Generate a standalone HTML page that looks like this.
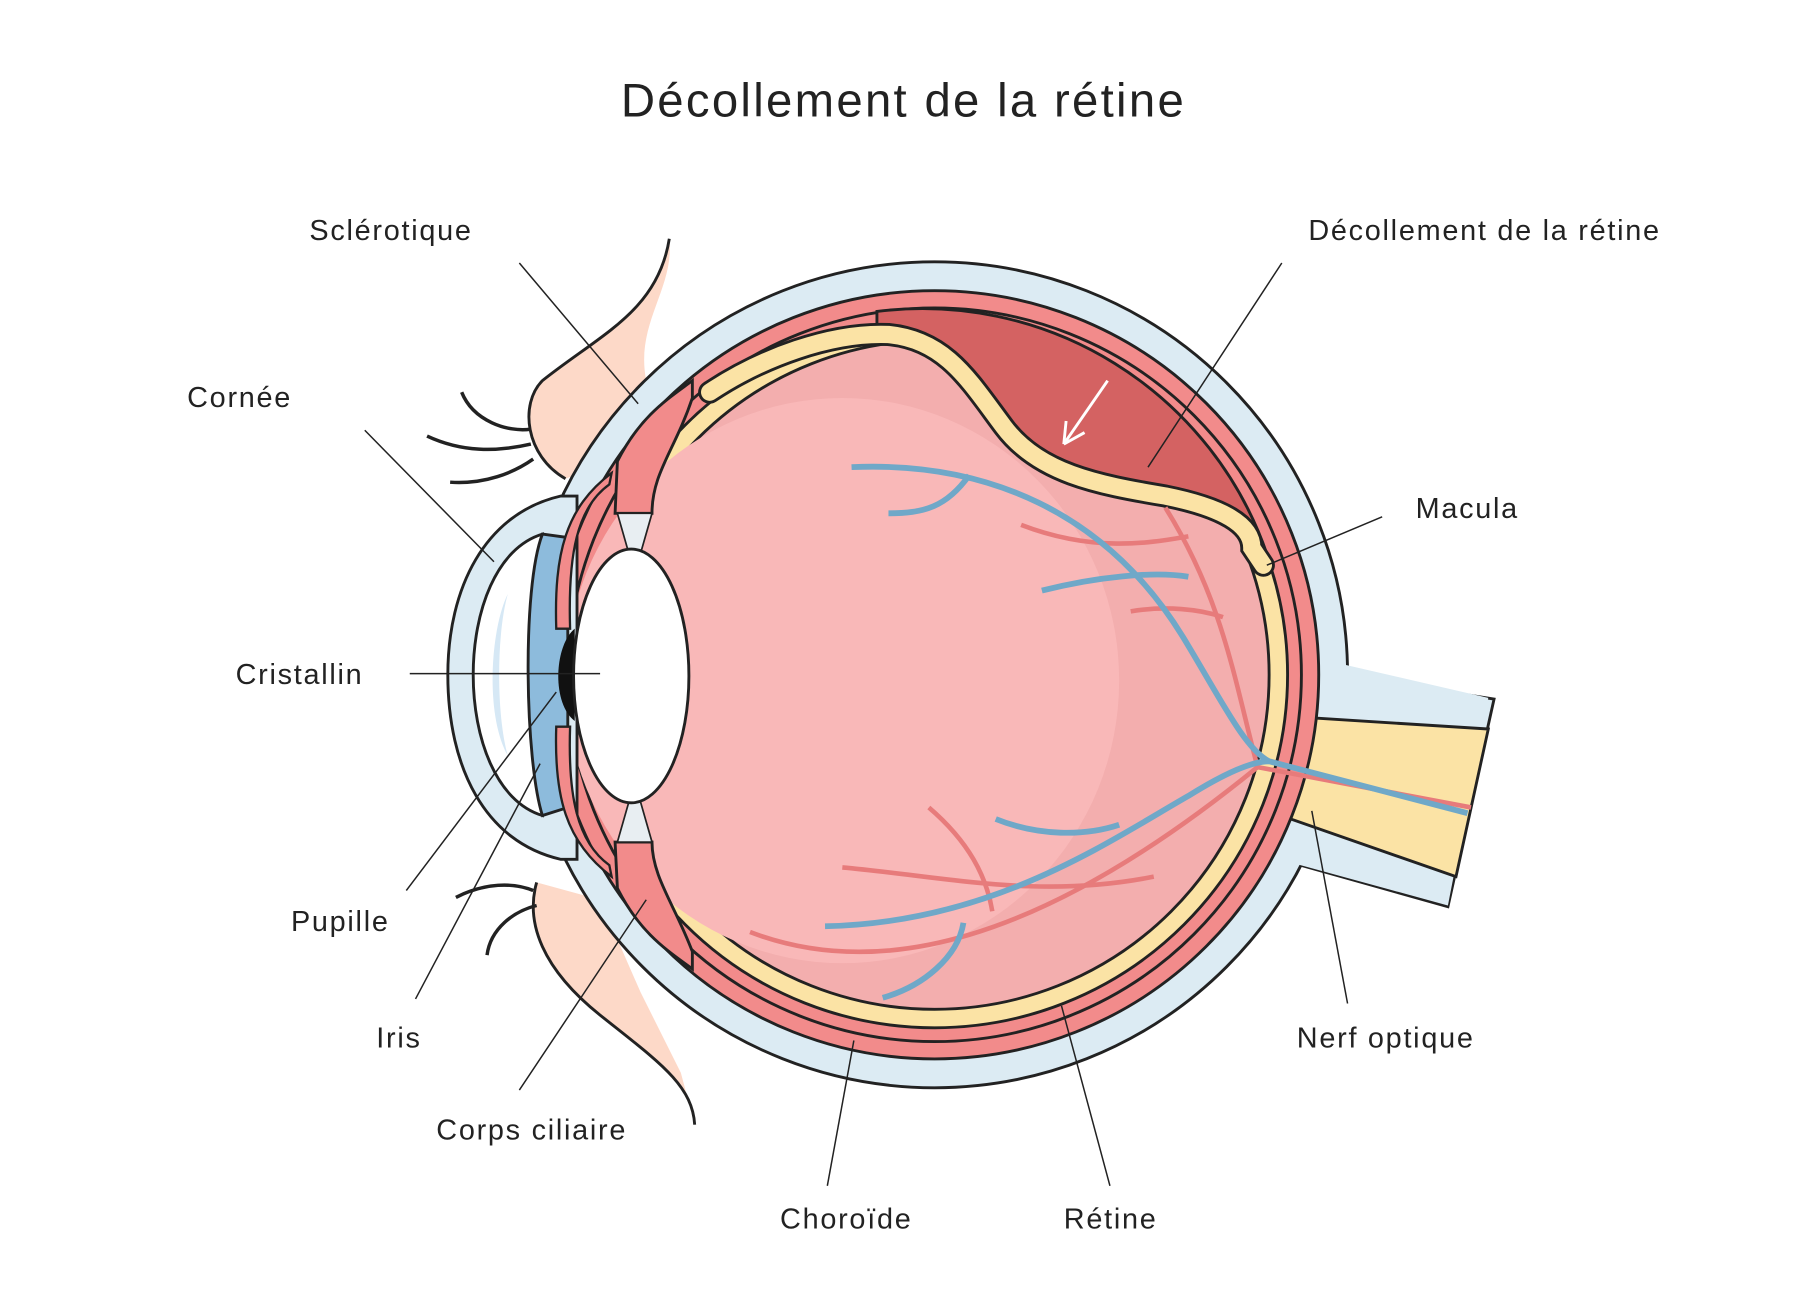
<!DOCTYPE html>
<html><head><meta charset="utf-8"><style>
html,body{margin:0;padding:0;background:#fff;width:1800px;height:1300px;overflow:hidden}
svg{display:block}
text{font-family:"Liberation Sans",sans-serif;fill:#222}
</style></head><body>
<svg width="1800" height="1300" viewBox="0 0 1560 1127" xmlns="http://www.w3.org/2000/svg">
<rect width="1560" height="1127" fill="#fff"/>
<text x="783" y="101" font-size="41" text-anchor="middle" letter-spacing="2">Décollement de la rétine</text>

<!-- eyelids -->
<path d="M580,207 C570,270 520,290 470,330 C450,350 455,395 490,415 L530,400 L560,330 C550,280 585,250 580,207 Z" fill="#fdd9c8"/>
<path d="M580,207 C570,270 520,290 470,330 C450,350 455,395 490,415" fill="none" stroke="#222" stroke-width="2.5"/>
<path d="M465,765 C455,800 470,840 520,880 C570,920 600,940 602,975 L590,930 L555,860 L520,780 Z" fill="#fdd9c8"/>
<path d="M465,765 C455,800 470,840 520,880 C570,920 600,940 602,975" fill="none" stroke="#222" stroke-width="2.5"/>
<g fill="none" stroke="#222" stroke-width="3">
<path d="M400,340 C410,365 440,375 460,372"/>
<path d="M370,378 C400,392 430,392 460,385"/>
<path d="M390,418 C420,420 445,410 462,398"/>
<path d="M395,778 C420,765 445,765 462,772"/>
<path d="M422,828 C425,805 445,790 465,785"/>
</g>

<path d="M1150,570 C1160,580 1165,586 1180,588 L1295,606 L1255,786 L1120,748 Z" fill="#dcebf3" stroke="#222" stroke-width="2.5"/>
<circle cx="810" cy="585" r="358" fill="#dcebf3" stroke="#222" stroke-width="2.5"/>
<path d="M1160,575 L1290,605 L1255,785 L1120,748 Z" fill="#dcebf3"/>
<path d="M1100,620 L1290,632 L1262,760 L1090,700 Z" fill="#fbe3a5" stroke="#222" stroke-width="2.5"/>
<circle cx="810" cy="585" r="333" fill="#f28b8b" stroke="#222" stroke-width="2.5"/>
<circle cx="810" cy="585" r="318" fill="#f28b8b" stroke="#222" stroke-width="2.5"/>
<circle cx="810" cy="585" r="306" fill="#fbe3a5" stroke="#222" stroke-width="2.5"/>
<circle cx="810" cy="585" r="290" fill="#f3aeae" stroke="#222" stroke-width="2.5"/>
<ellipse cx="730" cy="590" rx="240" ry="245" fill="#f9b8b8"/>

<path d="M760,270 A316,316 0 0 1 1098,480 C1080,455 1050,445 990,432 C920,420 890,405 860,360 C830,315 810,290 760,290 Z" fill="#d46262" stroke="#222" stroke-width="2.5"/>
<path d="M615,340 C660,310 720,288 770,290 C820,295 840,330 870,370 C900,410 950,420 1010,430 C1060,440 1085,455 1085,475 L1095,490" fill="none" stroke="#222" stroke-width="20" stroke-linecap="round"/>
<path d="M615,340 C660,310 720,288 770,290 C820,295 840,330 870,370 C900,410 950,420 1010,430 C1060,440 1085,455 1085,475 L1095,490" fill="none" stroke="#fbe3a5" stroke-width="15" stroke-linecap="round"/>
<path d="M960,330 L922,385 M922,385 L924,365 M922,385 L940,375" stroke="#fff" stroke-width="2.5" fill="none"/>

<g fill="none" stroke="#e77b7b" stroke-width="4">
<path d="M885,455 C950,480 1000,470 1030,465"/>
<path d="M980,530 C1010,525 1040,528 1060,535"/>
<path d="M1010,440 C1060,520 1070,590 1090,665"/>
<path d="M650,808 C760,850 900,820 1090,665"/>
<path d="M730,752 C820,760 900,780 1000,760"/>
<path d="M805,700 C840,730 855,760 860,790"/>
<path d="M1090,665 L1275,700"/>
</g>
<g fill="none" stroke="#6fa8c8" stroke-width="5">
<path d="M738,405 C850,400 960,440 1030,560 C1060,610 1080,650 1100,660 L1272,705"/>
<path d="M840,412 C820,440 800,445 770,445"/>
<path d="M903,512 C950,500 1000,495 1030,500"/>
<path d="M715,803 C860,800 960,730 1030,690 C1070,665 1090,660 1100,660"/>
<path d="M863,710 C900,725 940,725 970,715"/>
<path d="M835,800 C830,830 800,855 765,865"/>
</g>

<!-- ciliary bodies -->
<path d="M600,330 C580,345 555,360 535,400 L533,445 L565,445 C565,410 585,390 600,345 Z" fill="#f28b8b" stroke="#222" stroke-width="2.5"/>
<path d="M600,840 C580,825 555,810 535,770 L533,730 L565,730 C565,760 585,785 600,825 Z" fill="#f28b8b" stroke="#222" stroke-width="2.5"/>
<g stroke="#222" stroke-width="1.5" fill="#e8eef2">
<path d="M535,445 L545,480 L555,480 L565,445 Z"/>
<path d="M535,730 L545,695 L555,695 L565,730 Z"/>
</g>

<!-- cornea -->
<path d="M486,430 C420,445 388,510 388,585 C388,665 420,730 486,745 L500,745 L500,430 Z" fill="#dcebf3" stroke="#222" stroke-width="2.5"/>
<path d="M470,463 C430,475 410,530 410,585 C410,640 430,695 470,707 Z" fill="#fff" stroke="#222" stroke-width="2.5"/>
<path d="M440,515 C425,545 420,620 440,655 C430,620 430,550 440,515 Z" fill="#d6e8f5"/>
<path d="M470,463 L492,466 L492,700 L470,707 C455,660 452,510 470,463 Z" fill="#8dbbdc" stroke="#222" stroke-width="2.5"/>
<path d="M482,545 C480,480 490,440 530,410 L528,420 C500,440 492,480 494,545 Z" fill="#f28b8b" stroke="#222" stroke-width="2"/>
<path d="M482,630 C480,690 490,730 530,760 L528,750 C500,730 492,690 494,630 Z" fill="#f28b8b" stroke="#222" stroke-width="2"/>
<path d="M498,545 C480,560 478,610 498,625 Z" fill="#111"/>
<ellipse cx="547" cy="586" rx="50" ry="110" fill="#fff" stroke="#222" stroke-width="2.5"/>

<g stroke="#222" stroke-width="1.3" fill="none">
<line x1="450" y1="228" x2="553" y2="350"/>
<line x1="316" y1="373" x2="428" y2="487"/>
<line x1="355" y1="584" x2="520" y2="584"/>
<line x1="352" y1="772" x2="482" y2="600"/>
<line x1="360" y1="866" x2="468" y2="662"/>
<line x1="450" y1="945" x2="560" y2="780"/>
<line x1="717" y1="1028" x2="740" y2="902"/>
<line x1="962" y1="1028" x2="920" y2="872"/>
<line x1="1168" y1="870" x2="1137" y2="703"/>
<line x1="1198" y1="448" x2="1098" y2="490"/>
<line x1="1111" y1="228" x2="995" y2="405"/>
</g>

<g font-size="25" letter-spacing="1.5">
<text x="268" y="208">Sclérotique</text>
<text x="162" y="353">Cornée</text>
<text x="204" y="593">Cristallin</text>
<text x="252" y="807">Pupille</text>
<text x="326" y="908">Iris</text>
<text x="378" y="988">Corps ciliaire</text>
<text x="676" y="1065">Choroïde</text>
<text x="922" y="1065">Rétine</text>
<text x="1124" y="908">Nerf optique</text>
<text x="1227" y="449">Macula</text>
<text x="1134" y="208">Décollement de la rétine</text>
</g>
</svg>
</body></html>
